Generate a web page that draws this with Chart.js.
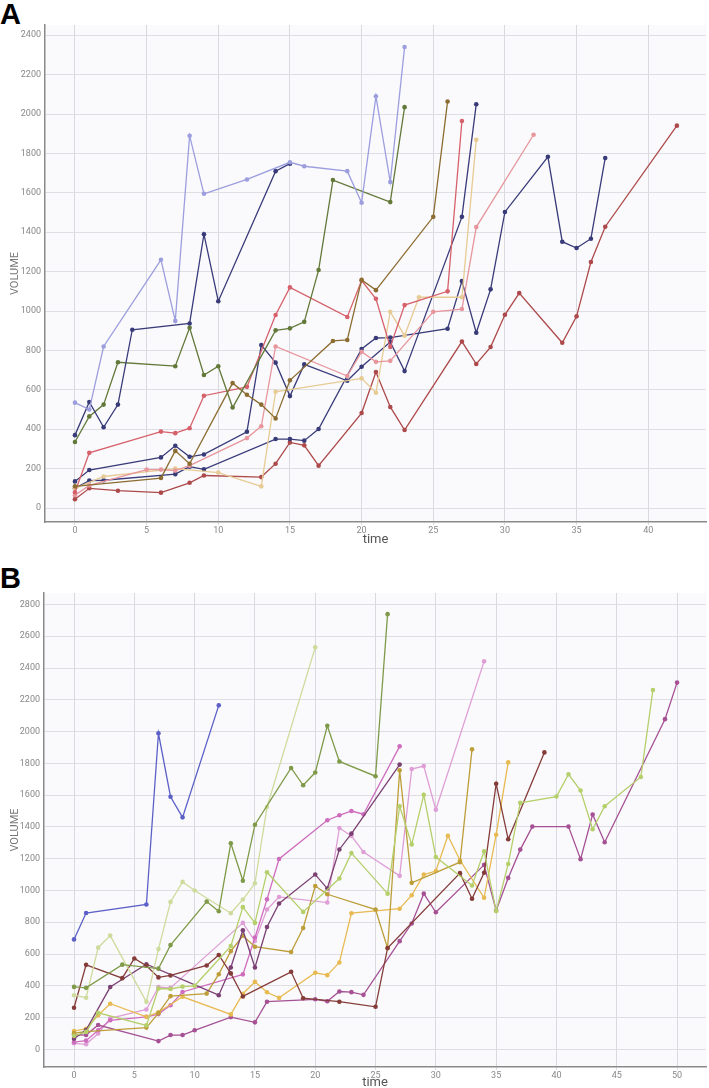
<!DOCTYPE html>
<html>
<head>
<meta charset="utf-8">
<script src="https://cdn.jsdelivr.net/npm/chart.js@4.4.1/dist/chart.umd.min.js"></script>
<style>
html,body{margin:0;padding:0;background:#fff;overflow:hidden;width:709px;height:1088px;}
.box{position:absolute;left:0;}
.tag{position:absolute;left:0;font-family:"Liberation Sans",Arial,sans-serif;font-weight:bold;font-size:29px;line-height:1;color:#000;}
</style>
</head>
<body>
<div class="tag" style="top:0px">A</div>
<div class="box" style="top:0px;width:709px;height:552px"><canvas id="chartA"></canvas></div>
<div class="tag" style="top:564px">B</div>
<div class="box" style="top:560px;width:709px;height:531px"><canvas id="chartB"></canvas></div>
<script>
// tick labels
const aXTicks=[0,5,10,15,20,25,30,35,40];
const aYTicks=[0,200,400,600,800,1000,1200,1400,1600,1800,2000,2200,2400];
const bXTicks=[0,5,10,15,20,25,30,35,40,45,50];
const bYTicks=[0,200,400,600,800,1000,1200,1400,1600,1800,2000,2200,2400,2600,2800];

// ---- panel A ----
const a1Time=[0,1,2,6,7,8,9,12,15,16,19,20,21,22,23];
const a1Vol=[535,500,820,1260,950,1890,1595,1668,1755,1735,1710,1550,2090,1655,2340];
const a2Time=[0,1,2,3,4,8,9,10,14,15];
const a2Vol=[370,538,410,525,905,937,1390,1050,1710,1748];
const a3Time=[0,1,2,3,7,8,9,10,11,14,15,16,17,18,22,23];
const a3Vol=[335,465,525,740,720,915,675,720,510,902,912,945,1208,1665,1553,2035];
const a4Time=[0,6,7,8,11,12,13,14,15,18,19,20,21,25,26];
const a4Vol=[110,152,290,225,634,575,525,455,648,848,853,1158,1106,1478,2064];
const a5Time=[0,1,6,7,8,9,12,14,15,19,20,21,22,23,26,27];
const a5Vol=[80,280,388,380,405,570,615,980,1120,970,1155,1062,818,1030,1100,1965];
const a6Time=[0,1,5,6,7,8,12,13,14,19,20,21,22,25,27,28,32];
const a6Vol=[65,115,195,195,190,215,355,415,820,670,793,742,747,996,1010,1426,1895];
const a7Time=[0,2,7,10,13,14,20,21,22,23,24,27,28];
const a7Vol=[100,160,200,180,110,590,658,585,996,875,1070,1070,1869];
const a8Time=[0,1,6,7,8,9,12,13,14,15,16,19,20,22,23,27,28];
const a8Vol=[135,193,257,316,260,272,387,827,738,568,729,646,717,843,695,1478,2050];
const a9Time=[0,1,2,7,8,9,14,15,16,17,20,21,22,26,27,28,29,30,33,34,35,36,37];
const a9Vol=[100,139,141,172,210,196,350,350,342,401,807,863,865,910,1152,890,1110,1503,1783,1352,1320,1367,1777];
const a10Time=[0,1,3,6,8,9,13,14,15,16,17,20,21,22,23,27,28,29,30,31,34,35,36,37,42];
const a10Vol=[45,100,88,78,128,165,157,225,333,318,215,482,690,513,396,845,731,817,981,1091,839,973,1249,1428,1941];

// ---- panel B ----
const b1Time=[0,1,6,7,8,9,12];
const b1Vol=[692,858,912,1989,1590,1460,2165];
const b2Time=[0,1,4,7,8,11,12,13,14,15,18,19,20,21,22,25,26];
const b2Vol=[393,387,533,508,656,930,869,1297,1061,1414,1771,1662,1742,2036,1812,1719,2739];
const b3Time=[0,1,2,3,6,7,8,9,10,13,14,15,16,20];
const b3Vol=[341,325,640,716,299,631,928,1054,1000,857,943,1045,1525,2530];
const b4Time=[0,1,2,6,7,8,9,10,13,14,15,16,19,22,23,26,27,28,29,30,33,34,35,36,37,40,41,42,43,44,47,48];
const b4Vol=[85,110,230,151,383,380,395,400,650,895,796,1115,865,1075,1235,980,1530,1290,1602,1210,1031,1247,870,1167,1551,1591,1731,1629,1385,1530,1714,2262];
const b5Time=[0,1,4,5,6,7,8,11,12,13,14,18,19,22,25,26,32,33,34,35,36,39];
const b5Vol=[262,532,448,572,526,453,465,528,594,478,333,488,322,300,268,638,1109,948,1111,1672,1322,1869];
const b6Time=[0,1,3,6,12,13,14,15,16,17,20,21,22,23,27];
const b6Vol=[67,121,392,536,341,515,750,515,770,918,1100,1012,1258,1358,1792];
const b7Time=[0,1,6,7,8,11,12,13,14,15,18,19,20,21,25,26,27,28,32,33];
const b7Vol=[102,112,137,228,335,351,473,618,715,646,613,764,1028,976,880,636,1756,1048,1178,1888];
const b8Time=[0,1,2,3,6,7,9,13,14,15,16,17,20,21,22,23,27,28,29,30,31,32,34,35,36];
const b8Vol=[115,130,215,287,205,234,331,220,350,425,359,324,482,467,547,857,885,970,1100,1122,1344,1190,954,1351,1806];
const b9Time=[0,1,2,7,8,9,10,13,15,16,20,21,22,23,24,27,28,29,30,34,35,36,37,38,41,42,43,44,49,50];
const b9Vol=[92,90,153,52,90,90,120,203,170,300,315,303,364,360,343,681,792,980,863,1161,874,1079,1257,1402,1402,1197,1478,1303,2078,2308];
const b10Time=[0,1,2,3,6,7,8,9,14,15,16,17,21,22,23,24,27];
const b10Vol=[45,55,120,183,205,222,278,361,472,704,944,1198,1442,1473,1500,1480,1907];
const b11Time=[0,1,2,3,6,7,8,14,15,16,17,21,22,23,24,27,28,29,30,34];
const b11Vol=[38,32,100,195,251,392,387,796,682,880,959,924,1393,1343,1242,1092,1764,1783,1508,2442];

function pts(t,v){return t.map((x,i)=>({x:x,y:v[i]}));}
function ds(t,v,c){
 return {data:pts(t,v),borderColor:c,backgroundColor:c,showLine:true,borderWidth:1.3,
  pointRadius:2.3,pointBorderWidth:0,pointHoverRadius:2.3,fill:false,tension:0};
}

const plotBg={
 id:'plotBg',
 beforeDraw(chart){
  const a=chart.chartArea,ctx=chart.ctx;
  ctx.save();ctx.fillStyle='#fafafd';
  ctx.fillRect(a.left,a.top,a.right-a.left,a.bottom-a.top);
  ctx.restore();
 }
};

function opts(xmin,xmax,ymin,ymax,xTicks,yTicks,padTop,yW,xH,titlePad){
 return {
  responsive:true,maintainAspectRatio:false,animation:false,
  layout:{padding:{top:padTop,right:3,left:0,bottom:0}},
  plugins:{legend:{display:false},tooltip:{enabled:false}},
  scales:{
   x:{type:'linear',min:xmin,max:xmax,
    afterBuildTicks:function(s){s.ticks=xTicks.map(v=>({value:v}));},
    afterFit:function(s){s.height=xH;},
    grid:{color:'#d9d9e0',lineWidth:1,tickLength:3,drawTicks:true},
    border:{display:true,color:'#8a8a8a',width:1.5},
    ticks:{padding:0,color:'#888',font:{family:'Roboto',size:9},callback:v=>String(v)},
    title:{display:true,text:'time',color:'#555',font:{family:'Roboto',size:13},padding:{top:0,bottom:titlePad}}
   },
   y:{type:'linear',min:ymin,max:ymax,
    afterBuildTicks:function(s){s.ticks=yTicks.map(v=>({value:v}));},
    afterFit:function(s){s.width=yW;},
    grid:{color:'#dedee4',lineWidth:1,drawTicks:false},
    border:{display:true,color:'#8a8a8a',width:1.5},
    ticks:{padding:4,color:'#888',font:{family:'Roboto',size:9},callback:v=>String(v)},
    title:{display:true,text:'VOLUME',color:'#777',font:{family:'Roboto',size:11},padding:{top:9,bottom:0}}
   }
  }
 };
}

new Chart(document.getElementById('chartA'),{
 type:'scatter',
 data:{datasets:[
  ds(a1Time,a1Vol,'#9c9ede'),
  ds(a2Time,a2Vol,'#393b79'),
  ds(a3Time,a3Vol,'#637939'),
  ds(a4Time,a4Vol,'#8c6d31'),
  ds(a5Time,a5Vol,'#d6616b'),
  ds(a6Time,a6Vol,'#e7969c'),
  ds(a7Time,a7Vol,'#e7cb94'),
  ds(a8Time,a8Vol,'#393b79'),
  ds(a9Time,a9Vol,'#393b79'),
  ds(a10Time,a10Vol,'#ad494a')
 ]},
 options:opts(-2.09,44.03,-71,2452,aXTicks,aYTicks,25,45,30,4),
 plugins:[plotBg]
});

new Chart(document.getElementById('chartB'),{
 type:'scatter',
 data:{datasets:[
  ds(b1Time,b1Vol,'#5c60c6'),
  ds(b2Time,b2Vol,'#7f9a48'),
  ds(b3Time,b3Vol,'#cedb9c'),
  ds(b4Time,b4Vol,'#b5cf6b'),
  ds(b5Time,b5Vol,'#843c39'),
  ds(b6Time,b6Vol,'#7b4173'),
  ds(b7Time,b7Vol,'#bd9e39'),
  ds(b8Time,b8Vol,'#e7ba52'),
  ds(b9Time,b9Vol,'#a55194'),
  ds(b10Time,b10Vol,'#ce6dbd'),
  ds(b11Time,b11Vol,'#de9ed6')
 ]},
 options:opts(-2.49,52.4,-111,2872,bXTicks,bYTicks,33,44,24,0),
 plugins:[plotBg]
});
</script>
</body>
</html>
